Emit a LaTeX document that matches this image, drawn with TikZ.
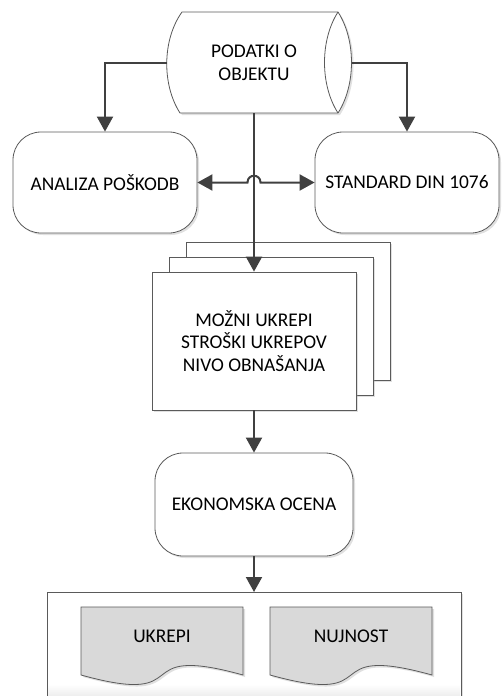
\documentclass[tikz,border=0pt]{standalone}
\usepackage{fontspec}
\setmainfont{Carlito}
\usetikzlibrary{arrows.meta,shadows}
\definecolor{edge}{HTML}{5A5A5A}
\definecolor{conn}{HTML}{404040}
\definecolor{docgray}{HTML}{D9D9D9}
\begin{document}
\begin{tikzpicture}[x=1pt,y=-1pt,
  font=\fontsize{19.4}{22.5}\selectfont,
  outline/.style={draw=edge,line width=0.8pt},
  softshadow/.style={drop shadow={shadow xshift=2pt,shadow yshift=-2pt,opacity=0.3,fill=black!40}},
  flow/.style={draw=conn,line width=2pt,-{Triangle[length=15pt,width=16pt]}},
  twoway/.style={draw=conn,line width=2pt,{Triangle[length=15pt,width=16pt]}-{Triangle[length=15pt,width=16pt]}},
  roundbox/.style={outline,softshadow,fill=white,rounded corners=28pt,minimum width=184pt,minimum height=101pt,align=center,inner sep=0pt},
  sheet/.style={outline,softshadow,fill=white,minimum width=204pt,minimum height=138pt,inner sep=0pt},
]
\useasboundingbox (0,0) rectangle (501,696);

% stored data shape at the top
\draw[outline,fill=white,softshadow] (182,12) -- (338,12)
  .. controls (356,40) and (356,85) .. (338,113) -- (180,113)
  .. controls (162,85) and (162,40) .. (182,12) -- cycle;
\draw[outline] (338,12) .. controls (320,40) and (320,85) .. (338,113);
\node[align=center] (data) at (254,63) {PODATKI O\\OBJEKTU};
\coordinate (dataW) at (167,62.5);
\coordinate (dataE) at (352,62.5);
\coordinate (dataS) at (254,113);

% processes
\node[roundbox] (analiza) at (105,182.5) {ANALIZA POŠKODB};
\node[roundbox] (standard) at (407,182.5) {STANDARD DIN 1076};

% stack of documents
\node[sheet] (back) at (288,311) {};
\node[sheet] (middle) at (271,326) {};
\node[sheet,align=center] (front) at (254,341) {MOŽNI UKREPI\\STROŠKI UKREPOV\\NIVO OBNAŠANJA};

\node[roundbox,minimum width=198pt,minimum height=103pt] (ocena) at (254,504.5) {EKONOMSKA OCENA};

% output container with two documents
\draw[outline,fill=white,softshadow] (47,592) rectangle (461,720);
\shade[top color=white,bottom color=black!7] (48,684) rectangle (460,696);
\coordinate (izhod) at (254,592);

\draw[outline,fill=docgray,softshadow] (81,607) -- (243,607) -- (243,675)
  .. controls (124,642) and (200,708) .. (81,675) -- cycle;
\node (ukrepi) at (162,636) {UKREPI};
\draw[outline,fill=docgray,softshadow] (270,607) -- (432,607) -- (432,675)
  .. controls (313,642) and (389,708) .. (270,675) -- cycle;
\node (nujnost) at (351,636) {NUJNOST};

% connectors
\draw[flow] (dataW) -| (analiza.north);
\draw[flow] (dataE) -| (standard.north);
\draw[flow] (dataS) -- (front.north);
\draw[twoway] (analiza.east) -- (247.5,182.5)
  .. controls (247.5,173.5) and (260.5,173.5) .. (260.5,182.5) -- (standard.west);
\draw[flow] (front.south) -- (ocena.north);
\draw[flow] (ocena.south) -- (izhod);
\end{tikzpicture}
\end{document}
